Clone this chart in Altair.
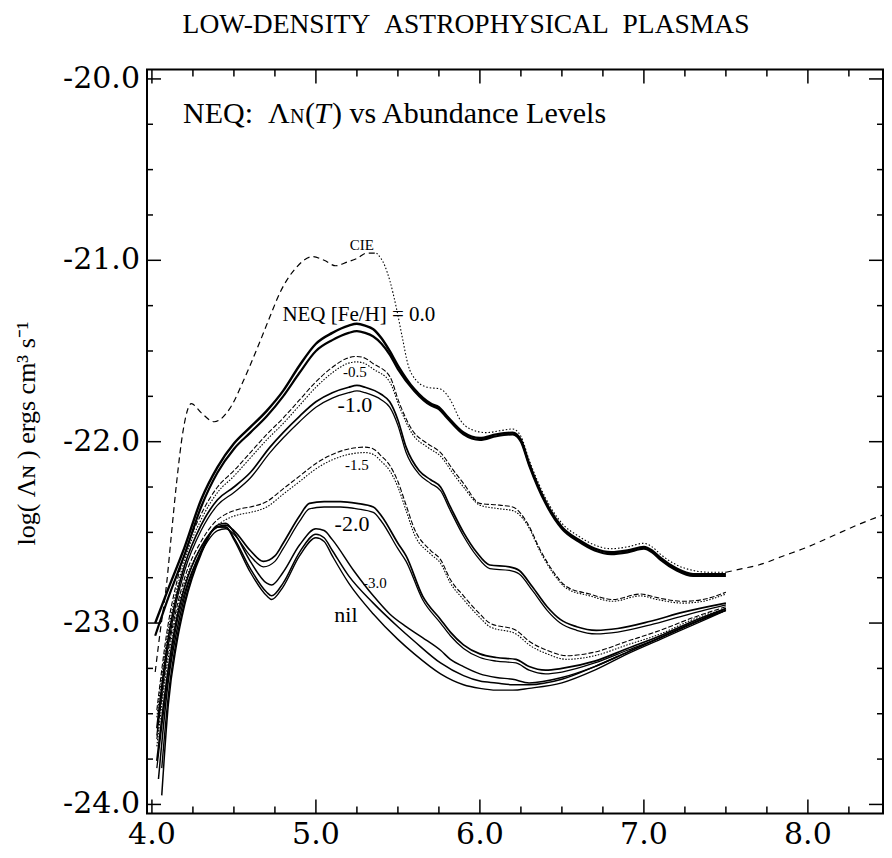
import altair as alt
import pandas as pd

# ---------------- data ----------------
# CIE curve
cie_x = [4.02, 4.05, 4.09, 4.12, 4.15, 4.19, 4.24, 4.30, 4.38, 4.48, 4.56, 4.64, 4.72, 4.78, 4.88,
         4.98, 5.05, 5.12, 5.19, 5.25, 5.31, 5.37, 5.42, 5.45, 5.49, 5.53, 5.56, 5.61, 5.68, 5.76,
         5.82, 5.88, 5.94, 6.04, 6.12, 6.20, 6.25, 6.30, 6.40, 6.50, 6.60, 6.70, 6.80, 6.90, 7.00,
         7.05, 7.10, 7.20, 7.30, 7.40, 7.50, 7.60, 7.70, 7.85, 8.00, 8.15, 8.30, 8.50]
cie_y = [-23.27, -23.05, -22.78, -22.50, -22.23, -21.94, -21.79, -21.84, -21.89, -21.81, -21.66, -21.49, -21.31, -21.18, -21.04,
         -20.98, -21.00, -21.03, -21.01, -20.99, -20.96, -20.96, -21.03, -21.11, -21.26, -21.44, -21.57, -21.66, -21.70, -21.71,
         -21.77, -21.88, -21.93, -21.95, -21.94, -21.93, -21.97, -22.10, -22.31, -22.45, -22.52, -22.57, -22.59, -22.58, -22.56,
         -22.58, -22.62, -22.68, -22.71, -22.72, -22.72, -22.70, -22.68, -22.63, -22.58, -22.52, -22.46, -22.39]

# NEQ [Fe/H] = 0.0 (two strands)
neq00_x = [4.02, 4.10, 4.20, 4.30, 4.40, 4.50, 4.60, 4.70, 4.80, 4.90, 5.00, 5.10, 5.20, 5.25, 5.30, 5.35, 5.40,
           5.45, 5.50, 5.60, 5.70, 5.75, 5.80, 5.90, 6.00, 6.10, 6.20, 6.25, 6.30, 6.40, 6.50, 6.60, 6.70, 6.80,
           6.90, 7.00, 7.05, 7.10, 7.20, 7.30, 7.40, 7.50]
neq00_ya = [-23.00, -22.81, -22.58, -22.32, -22.14, -22.01, -21.92, -21.83, -21.72, -21.58, -21.46, -21.40, -21.36, -21.35, -21.36, -21.38, -21.43,
            -21.50, -21.58, -21.71, -21.79, -21.81, -21.86, -21.95, -21.98, -21.96, -21.95, -21.99, -22.12, -22.33, -22.47, -22.54, -22.59, -22.61,
            -22.60, -22.58, -22.60, -22.64, -22.70, -22.73, -22.73, -22.73]
neq00_yb = [-23.07, -22.86, -22.62, -22.36, -22.17, -22.04, -21.95, -21.86, -21.75, -21.62, -21.50, -21.44, -21.40, -21.39, -21.40, -21.42, -21.46,
            -21.52, -21.60, -21.72, -21.80, -21.82, -21.87, -21.96, -21.99, -21.97, -21.96, -22.00, -22.13, -22.34, -22.48, -22.55, -22.60, -22.62,
            -22.61, -22.59, -22.61, -22.65, -22.71, -22.74, -22.74, -22.74]

# [Fe/H] = -0.5
m05_x = [4.03, 4.10, 4.15, 4.20, 4.30, 4.40, 4.50, 4.60, 4.70, 4.80, 4.90, 5.00, 5.10, 5.19, 5.25, 5.30, 5.35,
         5.45, 5.51, 5.59, 5.68, 5.76, 5.84, 5.90, 6.00, 6.12, 6.20, 6.29, 6.37, 6.45, 6.53, 6.67, 6.81, 6.98,
         7.08, 7.24, 7.36, 7.50]
m05_ya = [-23.48, -23.00, -22.78, -22.62, -22.40, -22.25, -22.16, -22.06, -21.96, -21.87, -21.77, -21.67, -21.59, -21.54, -21.53, -21.54, -21.57,
          -21.64, -21.79, -21.94, -22.01, -22.06, -22.16, -22.23, -22.34, -22.35, -22.36, -22.45, -22.60, -22.72, -22.80, -22.84, -22.87, -22.84,
          -22.86, -22.88, -22.87, -22.83]
m05_yb = [-23.52, -23.04, -22.82, -22.65, -22.43, -22.28, -22.19, -22.09, -21.99, -21.90, -21.80, -21.70, -21.62, -21.57, -21.56, -21.57, -21.60,
          -21.67, -21.81, -21.96, -22.03, -22.08, -22.18, -22.25, -22.35, -22.37, -22.38, -22.46, -22.61, -22.73, -22.81, -22.85, -22.88, -22.85,
          -22.87, -22.89, -22.88, -22.84]

# [Fe/H] = -1.0
m10_x = [4.03, 4.10, 4.15, 4.20, 4.30, 4.40, 4.50, 4.60, 4.72, 4.80, 4.90, 5.00, 5.10, 5.20, 5.25, 5.30, 5.40,
         5.45, 5.50, 5.55, 5.63, 5.70, 5.76, 5.82, 5.90, 5.98, 6.06, 6.18, 6.24, 6.32, 6.41, 6.49, 6.59, 6.71,
         6.84, 7.04, 7.24, 7.50]
m10_ya = [-23.58, -23.08, -22.85, -22.68, -22.46, -22.32, -22.25, -22.17, -22.03, -21.95, -21.86, -21.78, -21.73, -21.70, -21.69, -21.70, -21.74,
          -21.78, -21.88, -22.03, -22.16, -22.21, -22.25, -22.36, -22.50, -22.61, -22.68, -22.69, -22.71, -22.80, -22.91, -22.98, -23.02, -23.04,
          -23.03, -22.99, -22.94, -22.89]
m10_yb = [-23.62, -23.12, -22.88, -22.71, -22.49, -22.35, -22.28, -22.20, -22.06, -21.98, -21.89, -21.81, -21.76, -21.73, -21.72, -21.73, -21.77,
          -21.81, -21.91, -22.06, -22.18, -22.23, -22.27, -22.38, -22.52, -22.63, -22.70, -22.71, -22.73, -22.82, -22.93, -23.00, -23.04, -23.06,
          -23.05, -23.01, -22.96, -22.90]

# [Fe/H] = -1.5
m15_x = [4.03, 4.10, 4.15, 4.20, 4.30, 4.40, 4.45, 4.54, 4.60, 4.70, 4.80, 4.90, 5.00, 5.10, 5.20, 5.30, 5.35,
         5.40, 5.45, 5.50, 5.55, 5.60, 5.70, 5.76, 5.82, 5.90, 6.00, 6.06, 6.22, 6.30, 6.41, 6.53, 6.70, 6.90,
         7.10, 7.30, 7.50]
m15_ya = [-23.64, -23.15, -22.92, -22.75, -22.55, -22.43, -22.40, -22.37, -22.36, -22.33, -22.26, -22.19, -22.12, -22.07, -22.04, -22.03, -22.04,
          -22.08, -22.13, -22.22, -22.35, -22.48, -22.60, -22.65, -22.76, -22.85, -22.95, -23.00, -23.04, -23.10, -23.15, -23.18, -23.16, -23.10,
          -23.04, -22.97, -22.91]
m15_yb = [-23.68, -23.19, -22.95, -22.78, -22.58, -22.46, -22.43, -22.40, -22.39, -22.36, -22.29, -22.22, -22.15, -22.10, -22.07, -22.06, -22.07,
          -22.11, -22.16, -22.25, -22.38, -22.51, -22.62, -22.67, -22.78, -22.87, -22.97, -23.02, -23.06, -23.12, -23.17, -23.20, -23.18, -23.12,
          -23.06, -22.98, -22.92]

# [Fe/H] = -2.0
m20_x = [4.03, 4.10, 4.15, 4.20, 4.30, 4.40, 4.45, 4.50, 4.60, 4.68, 4.75, 4.80, 4.90, 4.96, 5.05, 5.15, 5.25,
         5.35, 5.40, 5.50, 5.55, 5.65, 5.76, 5.82, 5.90, 6.00, 6.10, 6.22, 6.30, 6.40, 6.50, 6.70, 6.90, 7.10,
         7.30, 7.50]
m20_ya = [-23.76, -23.25, -22.98, -22.80, -22.58, -22.47, -22.46, -22.49, -22.60, -22.66, -22.63, -22.56, -22.41, -22.34, -22.33, -22.33, -22.34,
          -22.36, -22.41, -22.56, -22.63, -22.85, -22.98, -23.05, -23.12, -23.17, -23.19, -23.20, -23.24, -23.26, -23.25, -23.21, -23.14, -23.07,
          -22.99, -22.92]
m20_yb = [-23.80, -23.29, -23.01, -22.83, -22.61, -22.49, -22.48, -22.51, -22.63, -22.69, -22.66, -22.59, -22.44, -22.37, -22.36, -22.36, -22.37,
          -22.39, -22.44, -22.59, -22.66, -22.87, -23.00, -23.07, -23.14, -23.19, -23.21, -23.22, -23.26, -23.28, -23.27, -23.22, -23.15, -23.08,
          -23.00, -22.93]

# [Fe/H] = -3.0
m30_x = [4.04, 4.10, 4.15, 4.20, 4.30, 4.40, 4.45, 4.50, 4.60, 4.70, 4.73, 4.80, 4.90, 5.00, 5.05, 5.10, 5.23,
         5.35, 5.45, 5.55, 5.65, 5.76, 5.82, 5.90, 6.00, 6.10, 6.20, 6.30, 6.50, 6.70, 6.90, 7.10, 7.30, 7.50]
m30_y = [-23.86, -23.32, -23.05, -22.85, -22.60, -22.46, -22.45, -22.50, -22.66, -22.78, -22.79, -22.72, -22.57, -22.48, -22.49, -22.54, -22.71,
         -22.85, -22.95, -23.02, -23.08, -23.15, -23.20, -23.24, -23.28, -23.30, -23.31, -23.33, -23.30, -23.24, -23.16, -23.08, -23.00, -22.92]

# nil (two strands)
nil_x = [4.06, 4.10, 4.15, 4.20, 4.30, 4.40, 4.45, 4.50, 4.60, 4.70, 4.73, 4.80, 4.90, 5.00, 5.05, 5.10, 5.20,
         5.35, 5.50, 5.60, 5.76, 5.90, 6.00, 6.10, 6.20, 6.30, 6.50, 6.70, 6.90, 7.10, 7.30, 7.50]
nil_ya = [-23.95, -23.45, -23.12, -22.90, -22.62, -22.47, -22.47, -22.53, -22.70, -22.83, -22.85, -22.78, -22.61, -22.51, -22.53, -22.60, -22.74,
          -22.89, -23.02, -23.10, -23.22, -23.29, -23.32, -23.33, -23.34, -23.34, -23.31, -23.24, -23.16, -23.08, -23.00, -22.93]
nil_yb = [-23.80, -23.40, -23.09, -22.88, -22.61, -22.47, -22.47, -22.54, -22.72, -22.85, -22.87, -22.80, -22.63, -22.53, -22.55, -22.63, -22.78,
          -22.95, -23.09, -23.17, -23.28, -23.34, -23.36, -23.37, -23.37, -23.36, -23.33, -23.26, -23.17, -23.09, -23.01, -22.93]

# curve labels
label_text = ["CIE", "NEQ [Fe/H] = 0.0", "-0.5", "-1.0", "-1.5", "-2.0", "-3.0", "nil"]
label_x = [5.28, 5.262, 5.238, 5.238, 5.25, 5.22, 5.36, 5.183]
label_y = [-20.915, -21.30, -21.615, -21.80, -22.128, -22.453, -22.778, -22.955]
label_size = [15, 21, 15, 22, 15, 22, 15, 22]

# axis ticks and tick labels
x_major = [4.0, 5.0, 6.0, 7.0, 8.0]
x_labels = ["4.0", "5.0", "6.0", "7.0", "8.0"]
x_minor = [4.25, 4.5, 4.75, 5.25, 5.5, 5.75, 6.25, 6.5, 6.75, 7.25, 7.5, 7.75, 8.25]
y_major = [-24.0, -23.0, -22.0, -21.0, -20.0]
y_labels = ["-24.0", "-23.0", "-22.0", "-21.0", "-20.0"]
y_minor = [-23.75, -23.5, -23.25, -22.75, -22.5, -22.25, -21.75, -21.5, -21.25, -20.75, -20.5, -20.25]

# ---------------- chart ----------------
W, H = 736, 744
XDOM = [3.97, 8.458]
YDOM = [-24.05, -19.948]
xs = alt.Scale(domain=XDOM, nice=False, zero=False)
ys = alt.Scale(domain=YDOM, nice=False, zero=False)
SERIF = "Liberation Serif"
LABFONT = "DejaVu Serif"


def line_layer(xv, yv, width, dash=None):
    df = pd.DataFrame({"x": xv, "y": yv})
    kw = dict(color="black", strokeWidth=width, interpolate="monotone", clip=True)
    if dash:
        kw["strokeDash"] = dash
    return alt.Chart(df).mark_line(**kw).encode(
        x=alt.X("x:Q", scale=xs, axis=None),
        y=alt.Y("y:Q", scale=ys, axis=None),
    )


layers = []
layers.append(line_layer(neq00_x, neq00_ya, 2.4))
layers.append(line_layer(neq00_x, neq00_yb, 2.2))

# CIE split in three styled segments
seg1 = [(x, y) for x, y in zip(cie_x, cie_y) if x <= 5.37]
seg2 = [(x, y) for x, y in zip(cie_x, cie_y) if 5.37 <= x <= 7.5]
seg3 = [(x, y) for x, y in zip(cie_x, cie_y) if x >= 7.5]
layers.append(line_layer([p[0] for p in seg1], [p[1] for p in seg1], 1.2, dash=[6, 4]))
layers.append(line_layer([p[0] for p in seg2], [p[1] for p in seg2], 1.1, dash=[1.5, 2]))
layers.append(line_layer([p[0] for p in seg3], [p[1] for p in seg3], 1.2, dash=[6, 5]))

layers.append(line_layer(m05_x, m05_ya, 1.1, dash=[5, 2]))
layers.append(line_layer(m05_x, m05_yb, 1.1, dash=[1.5, 1.5]))
layers.append(line_layer(m10_x, m10_ya, 1.7))
layers.append(line_layer(m10_x, m10_yb, 1.3))
layers.append(line_layer(m15_x, m15_ya, 1.1, dash=[5, 2]))
layers.append(line_layer(m15_x, m15_yb, 1.1, dash=[1.5, 1.5]))
layers.append(line_layer(m20_x, m20_ya, 1.7))
layers.append(line_layer(m20_x, m20_yb, 1.3))
layers.append(line_layer(m30_x, m30_y, 1.5))
layers.append(line_layer(nil_x, nil_ya, 1.5))
layers.append(line_layer(nil_x, nil_yb, 1.4))


# frame ticks (pointing inward)
def xtick_layer(vals, length, top):
    df = pd.DataFrame({"v": vals})
    return alt.Chart(df).mark_rule(color="black", strokeWidth=1.5).encode(
        x=alt.X("v:Q", scale=xs, axis=None),
        y=alt.value(0 if top else H),
        y2=alt.value(length if top else H - length),
    )


def ytick_layer(vals, length, right):
    df = pd.DataFrame({"v": vals})
    return alt.Chart(df).mark_rule(color="black", strokeWidth=1.5).encode(
        y=alt.Y("v:Q", scale=ys, axis=None),
        x=alt.value(W if right else 0),
        x2=alt.value(W - length if right else length),
    )


for top in (False, True):
    layers.append(xtick_layer(x_major, 14, top))
    layers.append(xtick_layer(x_minor, 7, top))
for right in (False, True):
    layers.append(ytick_layer(y_major, 14, right))
    layers.append(ytick_layer(y_minor, 6, right))

# tick labels
xl_df = pd.DataFrame({"v": x_major, "t": x_labels})
layers.append(
    alt.Chart(xl_df).mark_text(font=LABFONT, fontSize=30, color="black", align="center", baseline="alphabetic").encode(
        x=alt.X("v:Q", scale=xs, axis=None), y=alt.value(H + 30), text="t:N"
    )
)
yl_df = pd.DataFrame({"v": y_major, "t": y_labels})
layers.append(
    alt.Chart(yl_df).mark_text(font=LABFONT, fontSize=30, color="black", align="right", baseline="middle").encode(
        y=alt.Y("v:Q", scale=ys, axis=None), x=alt.value(-7), text="t:N"
    )
)

# curve labels
lab_df = pd.DataFrame({"x": label_x, "y": label_y, "t": label_text, "s": label_size})
layers.append(
    alt.Chart(lab_df).mark_text(font=SERIF, color="black", align="center", baseline="middle").encode(
        x=alt.X("x:Q", scale=xs, axis=None),
        y=alt.Y("y:Q", scale=ys, axis=None),
        text="t:N",
        size=alt.Size("s:Q", scale=None, legend=None),
    )
)


def free_text(txt, px, py, size, align="left", baseline="alphabetic", style="normal", angle=0):
    df = pd.DataFrame({"t": [txt]})
    kw = dict(font=SERIF, fontSize=size, color="black", align=align, baseline=baseline, fontStyle=style)
    if angle:
        kw["angle"] = angle
    return alt.Chart(df).mark_text(**kw).encode(text="t:N", x=alt.value(px), y=alt.value(py))


NB = "\u00a0"
# page title
layers.append(free_text("LOW-DENSITY" + NB + NB + "ASTROPHYSICAL" + NB + NB + "PLASMAS", 319, -37, 27.5, align="center"))
# panel annotation "NEQ:  ΛN(T) vs Abundance Levels"
layers.append(free_text("NEQ:" + NB + NB + "\u039b", 36, 53.5, 30))
layers.append(free_text("N", 143, 53.5, 20))
layers.append(free_text("(", 158, 53.5, 30))
layers.append(free_text("T", 167, 53.5, 30, style="italic"))
layers.append(free_text(")" + NB + "vs Abundance Levels", 185, 53.5, 30))
# y-axis title
layers.append(free_text("log(" + NB + "\u039b\u0274" + NB + ") ergs cm\u00b3 s\u207b\u00b9", -120, 364, 26,
                        align="center", baseline="middle", angle=270))

chart = alt.layer(*layers).properties(
    width=W,
    height=H,
    padding={"left": 139, "top": 61.5, "right": 1, "bottom": 36},
    autosize=alt.AutoSizeParams(type="none"),
).configure_view(stroke="black", strokeWidth=2)

chart.save("out.html", embed_options={"renderer": "svg", "actions": False})
